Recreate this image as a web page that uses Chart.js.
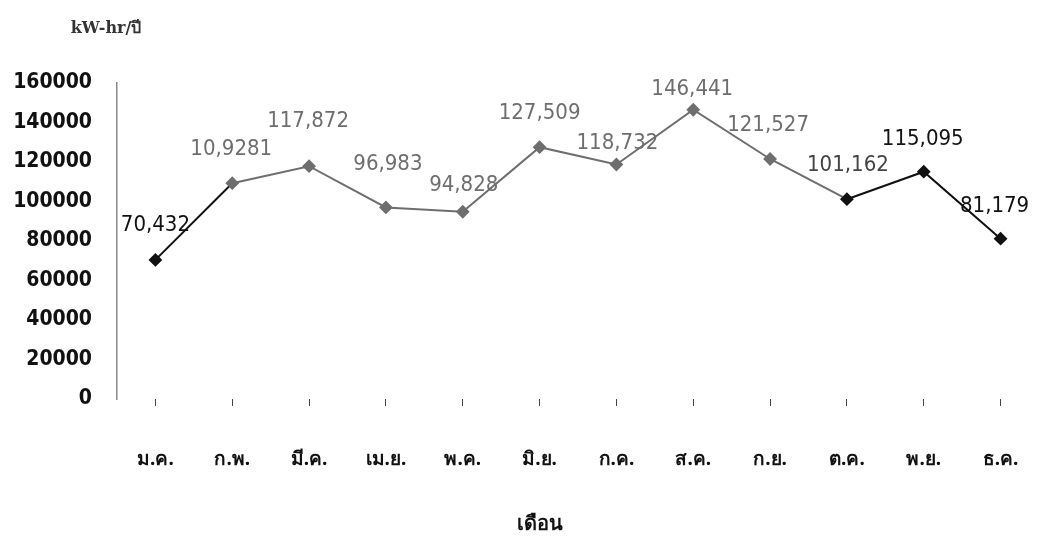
<!DOCTYPE html>
<html>
<head>
<meta charset="utf-8">
<script src="https://cdn.jsdelivr.net/npm/chart.js@4/dist/chart.umd.min.js"></script>
<style>
  html, body { margin: 0; padding: 0; background: #fff; }
  #wrap { width: 1039px; height: 541px; }
</style>
</head>
<body>
<div id="wrap"><canvas id="c" width="1039" height="541"></canvas></div>
<script>
// Monthly energy use (kW-hr per year)
const months = ['ม.ค.', 'ก.พ.', 'มี.ค.', 'เม.ย.', 'พ.ค.', 'มิ.ย.', 'ก.ค.', 'ส.ค.', 'ก.ย.', 'ต.ค.', 'พ.ย.', 'ธ.ค.'];
const energy = [70432, 109281, 117872, 96983, 94828, 127509, 118732, 146441, 121527, 101162, 115095, 81179];
const valueLabels = ['70,432', '10,9281', '117,872', '96,983', '94,828', '127,509', '118,732', '146,441', '121,527', '101,162', '115,095', '81,179'];
const yTicks = [0, 20000, 40000, 60000, 80000, 100000, 120000, 140000, 160000];

const yTitle = 'kW-hr/ปี';
const xTitle = 'เดือน';

// label placement relative to each point (px)
const labelShift = [[0, -35], [-1, -34], [-1, -45], [2, -43], [1, -26], [0, -34], [1, -21], [-1, -20], [-2, -34], [1, -34], [-1, -32], [-6, -32]];

const DARK = '#111';
const GREY = '#6e6e6e';
const isGrey = i => i >= 1 && i <= 8;
const labelColor = i => (i === 9 ? '#444' : (isGrey(i) ? GREY : DARK));

const valueLabelPlugin = {
  id: 'valueLabels',
  afterDatasetsDraw(chart) {
    const ctx = chart.ctx;
    const meta = chart.getDatasetMeta(0);
    ctx.save();
    ctx.font = '22px "DejaVu Sans Condensed", "DejaVu Sans", sans-serif';
    ctx.textAlign = 'center';
    ctx.textBaseline = 'middle';
    meta.data.forEach((pt, i) => {
      const s = labelShift[i];
      ctx.fillStyle = labelColor(i);
      ctx.fillText(valueLabels[i], pt.x + s[0], pt.y + s[1]);
    });
    ctx.restore();
  }
};

const titlesPlugin = {
  id: 'axisTitles',
  afterDraw(chart) {
    const ctx = chart.ctx;
    ctx.save();
    ctx.fillStyle = '#333';
    ctx.textAlign = 'center';
    ctx.textBaseline = 'middle';
    ctx.font = 'bold 16px "DejaVu Serif", "Liberation Serif", serif';
    ctx.fillText(yTitle, 106, 29);
    ctx.fillStyle = DARK;
    ctx.font = 'bold 20px "Noto Sans", "DejaVu Sans", sans-serif';
    ctx.fillText(xTitle, 540, 524);
    ctx.restore();
  }
};

new Chart(document.getElementById('c'), {
  type: 'line',
  data: {
    labels: months,
    datasets: [{
      data: energy,
      borderWidth: 2,
      borderColor: DARK,
      segment: {
        borderColor: c => (isGrey(c.p0DataIndex) ? GREY : DARK)
      },
      pointStyle: 'rectRot',
      pointRadius: 5.5,
      pointHoverRadius: 5.5,
      pointBackgroundColor: energy.map((v, i) => (isGrey(i) ? GREY : DARK)),
      pointBorderColor: energy.map((v, i) => (isGrey(i) ? GREY : DARK)),
      tension: 0,
      clip: false
    }]
  },
  options: {
    responsive: false,
    devicePixelRatio: 1,
    animation: false,
    events: [],
    layout: { autoPadding: false, padding: { top: 83, left: 0, right: 0, bottom: 0 } },
    plugins: {
      legend: { display: false },
      tooltip: { enabled: false },
      title: { display: false }
    },
    scales: {
      x: {
        offset: true,
        afterFit(scale) { scale.height = 142; scale.paddingRight = 0; },
        grid: {
          display: true,
          offset: false,
          drawOnChartArea: false,
          drawTicks: true,
          tickLength: 7,
          color: '#444',
          lineWidth: 1
        },
        border: { display: false },
        ticks: {
          padding: 42,
          color: DARK,
          font: { family: '"Noto Sans", "DejaVu Sans", sans-serif', size: 19, weight: 'bold' },
          maxRotation: 0,
          autoSkip: false
        }
      },
      y: {
        min: 0,
        max: 160000,
        afterFit(scale) { scale.width = 117; },
        afterBuildTicks(scale) { scale.ticks = yTicks.map(v => ({ value: v })); },
        grid: { display: false, drawTicks: false },
        border: { display: true, color: '#8a8a8a', width: 1.5 },
        ticks: {
          padding: 25,
          color: DARK,
          font: { family: '"DejaVu Sans Condensed", "DejaVu Sans", sans-serif', size: 21, weight: 'bold' },
          callback: v => String(v)
        }
      }
    }
  },
  plugins: [valueLabelPlugin, titlesPlugin]
});
</script>
</body>
</html>
